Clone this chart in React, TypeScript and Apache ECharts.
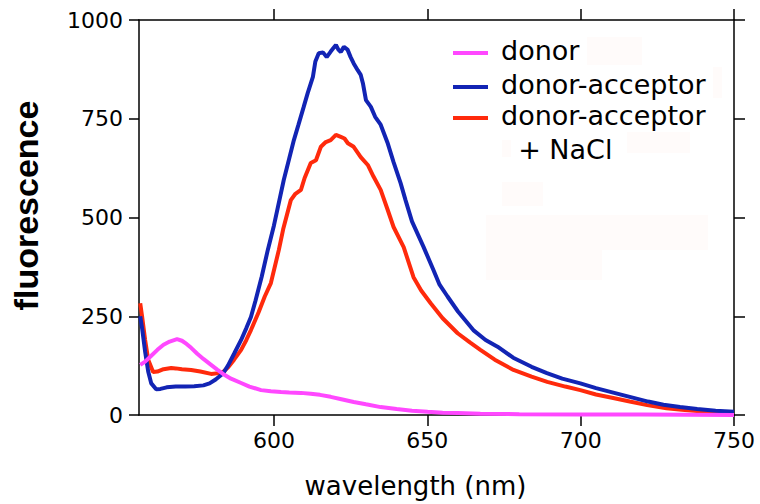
import React, { useEffect, useRef } from "react";
import * as echarts from "echarts";

const xTicks = [600, 650, 700, 750];
const yTicks = [0, 250, 500, 750, 1000];

const donor: [number, number][] = [
  [556.4, 127], [558, 135], [560, 150], [562, 165], [564, 178], [566, 186], [568.4, 192],
  [570, 188], [571.5, 180], [573, 170], [575, 155], [577, 142], [579.5, 127], [581.5, 115],
  [583.4, 104], [586, 92], [589.3, 81], [592, 72], [595.8, 63], [599, 60], [602.3, 58],
  [605, 57], [608.8, 56], [612, 54], [615, 51], [618.5, 46], [622, 40], [626, 33], [630, 27],
  [634.8, 20], [640, 15], [645, 11], [650.1, 8], [655, 6], [660, 5], [667.3, 3], [680, 2],
  [700, 1], [720, 1], [750, 0],
];

const donorAcceptor: [number, number][] = [
  [556.4, 250], [557, 220], [558, 160], [559, 110], [560, 80], [561.6, 65], [563, 66],
  [565, 70], [568, 72], [571, 72], [574, 73], [577, 75], [579, 80], [581, 90], [583.4, 105],
  [585, 125], [587, 155], [589.3, 190], [591, 220], [592.5, 248], [594, 290], [596, 350],
  [598, 418], [600, 480], [603.2, 595], [605, 650], [606.5, 696], [608, 735], [609.7, 780],
  [611, 815], [612.7, 856], [613.5, 895], [614.6, 916], [616, 918], [617.2, 906], [618.5, 920],
  [620.2, 937], [621, 925], [621.8, 919], [622.8, 932], [624, 925], [625, 906], [626, 890],
  [627.3, 873], [628.3, 861], [629, 840], [630, 797], [631.6, 780], [633, 755], [634.8, 735],
  [637, 690], [639, 640], [641.3, 587], [642.9, 544], [645, 490], [648.8, 425], [652, 367],
  [654, 330], [656.6, 300], [660, 262], [665, 215], [669, 190], [672.9, 173], [678, 145],
  [684, 122], [689, 106], [694, 92], [699.9, 80], [705, 68], [710, 58], [716, 46], [722, 34],
  [727, 26], [732.4, 20], [738, 15], [744, 11], [750, 8],
];

const donorAcceptorNaCl: [number, number][] = [
  [556.4, 283], [557, 250], [558, 190], [559, 140], [560.6, 109], [562, 110], [564, 116],
  [566.5, 119], [568, 118], [570, 116], [573, 114], [576, 110], [579.5, 104], [582, 106],
  [583.4, 109], [585, 120], [587, 140], [589.3, 165], [591, 190], [592.5, 215], [595, 260],
  [597, 300], [599, 334], [601.6, 418], [603, 470], [605.5, 544], [607, 560], [608.8, 570],
  [610, 600], [612, 638], [613.7, 645], [615.3, 679], [616.9, 691], [618.5, 696], [620.2, 709],
  [621.8, 704], [623, 700], [624.1, 688], [626, 679], [628.3, 653], [630.6, 633], [632.5, 603],
  [634.8, 570], [637.1, 519], [639, 476], [642.3, 425], [645.5, 349], [648, 315], [651.1, 283],
  [655, 245], [659.9, 207], [664, 183], [667.3, 165], [672, 140], [678.1, 114], [684, 97],
  [689.1, 84], [695, 72], [699.9, 63], [705, 52], [710.6, 43], [716, 34], [721.7, 25],
  [728, 17], [733, 13], [737.9, 10], [744, 6], [749.6, 3],
];

const seriesNames = ["donor", "donor-acceptor", "donor-acceptor\n  + NaCl"];
const colors = ["#ff48ff", "#1224b4", "#ff2a0c"];

const FONT = "DejaVu Sans";

export default function App() {
  const ref = useRef<HTMLDivElement>(null);
  useEffect(() => {
    if (!ref.current) return;
    const chart = echarts.init(ref.current, undefined, { renderer: "svg" });
    const axisLine = { show: true, onZero: false, lineStyle: { color: "#000", width: 1.5 } };
    const tickStyle = { width: 1.5, color: "#000" };
    const legendGraphics: any[] = [];
    const legendY = [51, 85, 116];
    seriesNames.forEach((n, i) => {
      legendGraphics.push({
        type: "line",
        shape: { x1: 453, y1: legendY[i] + 2, x2: 488, y2: legendY[i] + 2 },
        style: { stroke: colors[i], lineWidth: 4 },
      });
      legendGraphics.push({
        type: "text",
        x: 501,
        y: legendY[i] - 18,
        style: { text: n, font: `27px '${FONT}'`, fill: "#000", lineHeight: 34 },
      });
    });
    const faint = [
      [587, 37, 55, 28], [713, 67, 9, 31], [627, 132, 63, 21], [502, 140, 9, 17],
      [502, 182, 41, 24], [486, 215, 222, 35], [486, 250, 116, 30],
    ].map(([x, y, w, h]) => ({
      type: "rect", shape: { x, y, width: w, height: h }, style: { fill: "#fffbfa" }, z: -1,
    }));
    chart.setOption({
      animation: false,
      backgroundColor: "#fff",
      grid: { left: 139, right: 26, top: 20, bottom: 89, containLabel: false },
      xAxis: [
        {
          type: "value", min: 556, max: 750, position: "bottom",
          axisLine, splitLine: { show: false },
          axisTick: { show: true, inside: false, length: 11, lineStyle: tickStyle, customValues: xTicks },
          axisLabel: { customValues: xTicks, fontSize: 22, fontFamily: FONT, color: "#000", margin: 14 },
          name: "wavelength (nm)", nameLocation: "middle", nameGap: 58,
          nameTextStyle: { fontSize: 26, fontFamily: FONT, color: "#000", padding: [0, 42, 0, 0] },
        },
        {
          type: "value", min: 556, max: 750, position: "top",
          axisLine, splitLine: { show: false },
          axisTick: { show: true, inside: false, length: 11, lineStyle: tickStyle, customValues: xTicks },
          axisLabel: { show: false, customValues: xTicks },
        },
      ],
      yAxis: [
        {
          type: "value", min: 0, max: 1000, interval: 250, position: "left",
          axisLine, splitLine: { show: false },
          axisTick: { show: true, inside: false, length: 10, lineStyle: tickStyle },
          axisLabel: { fontSize: 22, fontFamily: FONT, color: "#000", margin: 16, formatter: (v: number) => (yTicks.includes(v) ? String(v) : "") },
          name: "fluorescence", nameLocation: "middle", nameGap: 96,
          nameTextStyle: { fontSize: 34, fontWeight: "bold", fontFamily: "Liberation Sans", color: "#000", padding: [0, 0, 0, 24] },
        },
        {
          type: "value", min: 0, max: 1000, interval: 250, position: "right",
          axisLine, splitLine: { show: false },
          axisTick: { show: true, inside: false, length: 11, lineStyle: tickStyle },
          axisLabel: { show: false },
        },
      ],
      series: [
        { name: seriesNames[2], type: "line", data: donorAcceptorNaCl, showSymbol: false, color: colors[2], lineStyle: { width: 4, color: colors[2] } },
        { name: seriesNames[1], type: "line", data: donorAcceptor, showSymbol: false, color: colors[1], lineStyle: { width: 4, color: colors[1] } },
        { name: seriesNames[0], type: "line", data: donor, showSymbol: false, color: colors[0], lineStyle: { width: 4, color: colors[0] } },
      ],
      graphic: [...faint, ...legendGraphics],
    });
    return () => chart.dispose();
  }, []);
  return <div ref={ref} style={{ width: 760, height: 504, position: "absolute", left: 0, top: 0 }} />;
}
